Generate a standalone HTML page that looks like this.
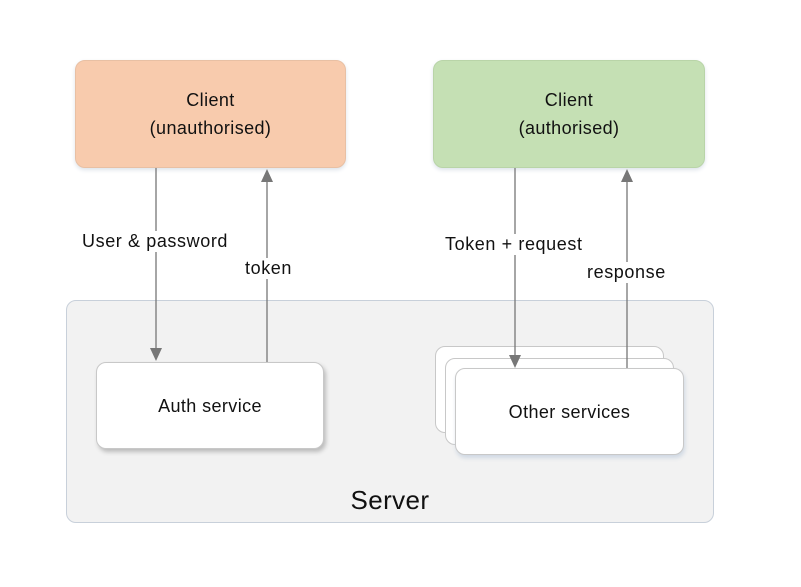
<!DOCTYPE html>
<html><head><style>
body{margin:0;width:801px;height:587px;background:#fff;font-family:"Liberation Sans",sans-serif;position:relative;overflow:hidden}
.b{position:absolute;box-sizing:border-box;border-radius:10px;display:flex;align-items:center;justify-content:center;text-align:center;color:#111;font-size:18px;line-height:28px;letter-spacing:0.4px}
.l{position:absolute;font-size:18px;letter-spacing:0.6px;color:#111;background:#fff;padding:0 2px}
</style></head><body>
<div class="b" style="left:66px;top:300px;width:648px;height:223px;background:#f2f2f2;border:1px solid #c8d0da;align-items:flex-end;padding-bottom:8px;font-size:26px">Server</div>
<div class="b" style="left:75px;top:60px;width:271px;height:108px;background:#f8cbad;border:1px solid #e8c0a4;box-shadow:0 2px 4px #dde3ea">Client<br>(unauthorised)</div>
<div class="b" style="left:433px;top:60px;width:272px;height:108px;background:#c5e0b4;border:1px solid #b9d4a8;box-shadow:0 2px 4px #dde3ea">Client<br>(authorised)</div>
<div class="b" style="left:96px;top:362px;width:228px;height:87px;background:#fff;border:1px solid #c8c8c8;box-shadow:2px 3px 4px #bbb">Auth service</div>
<div class="b" style="left:435px;top:346px;width:229px;height:87px;background:#fff;border:1px solid #c8c8c8"></div>
<div class="b" style="left:445px;top:358px;width:229px;height:87px;background:#fff;border:1px solid #c8c8c8"></div>
<div class="b" style="left:455px;top:368px;width:229px;height:87px;background:#fff;border:1px solid #c8c8c8;box-shadow:1px 3px 4px #cfd8e3">Other services</div>
<svg style="position:absolute;left:0;top:0" width="801" height="587">
<g stroke="#777" stroke-width="1.3" fill="#777">
<line x1="156" y1="168" x2="156" y2="350"/><polygon points="150,348 162,348 156,361" stroke="none"/>
<line x1="267" y1="362" x2="267" y2="180"/><polygon points="261,182 273,182 267,169" stroke="none"/>
<line x1="515" y1="168" x2="515" y2="357"/><polygon points="509,355 521,355 515,368" stroke="none"/>
<line x1="627" y1="368" x2="627" y2="180"/><polygon points="621,182 633,182 627,169" stroke="none"/>
</g></svg>
<div class="l" style="left:80px;top:231px">User &amp; password</div>
<div class="l" style="left:243px;top:258px">token</div>
<div class="l" style="left:443px;top:234px">Token + request</div>
<div class="l" style="left:585px;top:262px">response</div>
</body></html>
